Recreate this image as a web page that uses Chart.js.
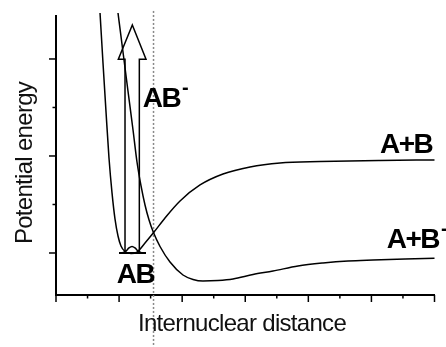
<!DOCTYPE html>
<html>
<head>
<meta charset="utf-8">
<script src="https://cdn.jsdelivr.net/npm/chart.js@4"></script>
<style>
  html, body { margin: 0; padding: 0; background: #fff; }
  #wrap { width: 446px; height: 347px; }
</style>
</head>
<body>
<div id="wrap"><canvas id="chart" width="446" height="347"></canvas></div>
<script>
/*********** data (x = internuclear distance, y = energy, arbitrary units) ***********/
// neutral molecule AB
const abX = [0.698, 0.745, 0.793, 0.840, 0.888, 0.935, 0.983, 1.030, 1.094, 1.189, 1.284, 1.411, 1.554, 1.728, 1.966, 2.283, 2.647, 3.076, 3.551, 4.185, 5.136, 6.0];
const abY = [2.474, 1.959, 1.454, 0.979, 0.619, 0.351, 0.175, 0.072, 0.015, -0.005, 0.010, 0.103, 0.216, 0.361, 0.536, 0.701, 0.814, 0.887, 0.928, 0.943, 0.954, 0.959];

// anion AB-
const anionX = [0.983, 1.062, 1.141, 1.221, 1.284, 1.348, 1.411, 1.475, 1.542, 1.649, 1.807, 2.013, 2.172, 2.330, 2.568, 2.806, 3.123, 3.440, 3.836, 4.233, 4.629, 5.025, 5.533, 6.0];
const anionY = [2.474, 2.072, 1.670, 1.268, 0.938, 0.691, 0.495, 0.340, 0.216, 0.067, -0.093, -0.227, -0.273, -0.289, -0.284, -0.268, -0.222, -0.186, -0.134, -0.103, -0.082, -0.072, -0.062, -0.055];

// v=0 level and its wavefunction
const levelX = [0.999, 1.427];
const levelY = [0, 0];
const waveX = [1.046, 1.110, 1.157, 1.205, 1.252, 1.300, 1.363];
const waveY = [0, 0.021, 0.052, 0.067, 0.052, 0.021, 0];

// vertical transition arrow (outline)
const arrowX = [1.094, 1.094, 0.988, 1.210, 1.427, 1.321, 1.321];
const arrowY = [0, 1.997, 1.997, 2.351, 1.997, 1.997, 0];

// dotted line through the curve crossing
const dotX = [1.546, 1.546];
const dotY = [2.495, -0.969];

// axis ticks
const xMajor = [0, 1, 2, 3, 4, 5, 6];
const xMinor = [0.5, 1.5, 2.5, 3.5, 4.5, 5.5];
const yMajor = [0, 1, 2];
const yMinor = [0.5, 1.5];

// curve labels
const labelText = ['AB', 'AB', 'A+B', 'A+B'];
const labelSup = ['-', '', '', '-'];
const labelX = [1.374, 0.962, 5.136, 5.243];
const labelY = [1.505, -0.309, 1.031, 0.052];

const toPts = (xs, ys) => xs.map((x, i) => ({x: x, y: ys[i]}));

const extras = {
    id: 'extras',
    afterDraw(chart) {
        const ctx = chart.ctx;
        const xs = chart.scales.x, ys = chart.scales.y;
        const area = chart.chartArea;
        ctx.save();
        ctx.strokeStyle = '#000';
        ctx.lineWidth = 1.5;
        // tick marks, major and minor
        const tick = (vals, len, horiz) => {
            vals.forEach(v => {
                ctx.beginPath();
                if (horiz) {
                    const p = xs.getPixelForValue(v);
                    ctx.moveTo(p, area.bottom);
                    ctx.lineTo(p, area.bottom + len);
                } else {
                    const p = ys.getPixelForValue(v);
                    ctx.moveTo(area.left, p);
                    ctx.lineTo(area.left - len, p);
                }
                ctx.stroke();
            });
        };
        tick(xMajor, 7, true);
        tick(xMinor, 3.5, true);
        tick(yMajor, 7, false);
        tick(yMinor, 3.5, false);

        // axis titles
        ctx.fillStyle = '#111';
        ctx.font = '24px "Liberation Sans", Arial, sans-serif';
        ctx.letterSpacing = '-0.7px';
        ctx.textAlign = 'center';
        ctx.textBaseline = 'alphabetic';
        ctx.fillText('Internuclear distance', 242, 331);
        ctx.save();
        ctx.translate(31.5, 163);
        ctx.rotate(-Math.PI / 2);
        ctx.fillText('Potential energy', 0, 0);
        ctx.restore();

        // curve labels
        ctx.fillStyle = '#000';
        ctx.textAlign = 'left';
        for (let i = 0; i < labelText.length; i++) {
            const px = xs.getPixelForValue(labelX[i]);
            const py = ys.getPixelForValue(labelY[i]);
            ctx.font = 'bold 28px "Liberation Sans", Arial, sans-serif';
            ctx.letterSpacing = '-1.5px';
            ctx.fillText(labelText[i], px, py);
            if (labelSup[i]) {
                const w = ctx.measureText(labelText[i]).width;
                ctx.font = 'bold 20px "Liberation Sans", Arial, sans-serif';
                ctx.letterSpacing = '0px';
                ctx.fillText(labelSup[i], px + w + 2, py - 13);
            }
        }
        ctx.restore();
    }
};

const line = (xs, ys, extra) => Object.assign({
    data: toPts(xs, ys),
    borderColor: '#000',
    borderWidth: 1.5,
    pointRadius: 0,
    fill: false,
    clip: false,
    tension: 0
}, extra);

new Chart(document.getElementById('chart'), {
    type: 'line',
    data: {
        datasets: [
            line(abX, abY, {cubicInterpolationMode: 'monotone'}),
            line(anionX, anionY, {cubicInterpolationMode: 'monotone'}),
            line(levelX, levelY, {borderWidth: 2}),
            line(waveX, waveY, {cubicInterpolationMode: 'monotone'}),
            line(arrowX, arrowY, {}),
            line(dotX, dotY, {borderColor: '#888', borderWidth: 1.5, borderDash: [2, 2]})
        ]
    },
    options: {
        responsive: false,
        animation: false,
        layout: { padding: {left: 56, right: 11.5, top: 16, bottom: 52} },
        plugins: { legend: {display: false}, tooltip: {enabled: false} },
        scales: {
            x: {
                type: 'linear', min: 0, max: 6,
                grid: {display: false, drawTicks: false},
                ticks: {display: false},
                border: {display: true, color: '#000', width: 2}
            },
            y: {
                type: 'linear', min: -0.433, max: 2.443,
                grid: {display: false, drawTicks: false},
                ticks: {display: false},
                border: {display: true, color: '#000', width: 2}
            }
        }
    },
    plugins: [extras]
});
</script>
</body>
</html>
